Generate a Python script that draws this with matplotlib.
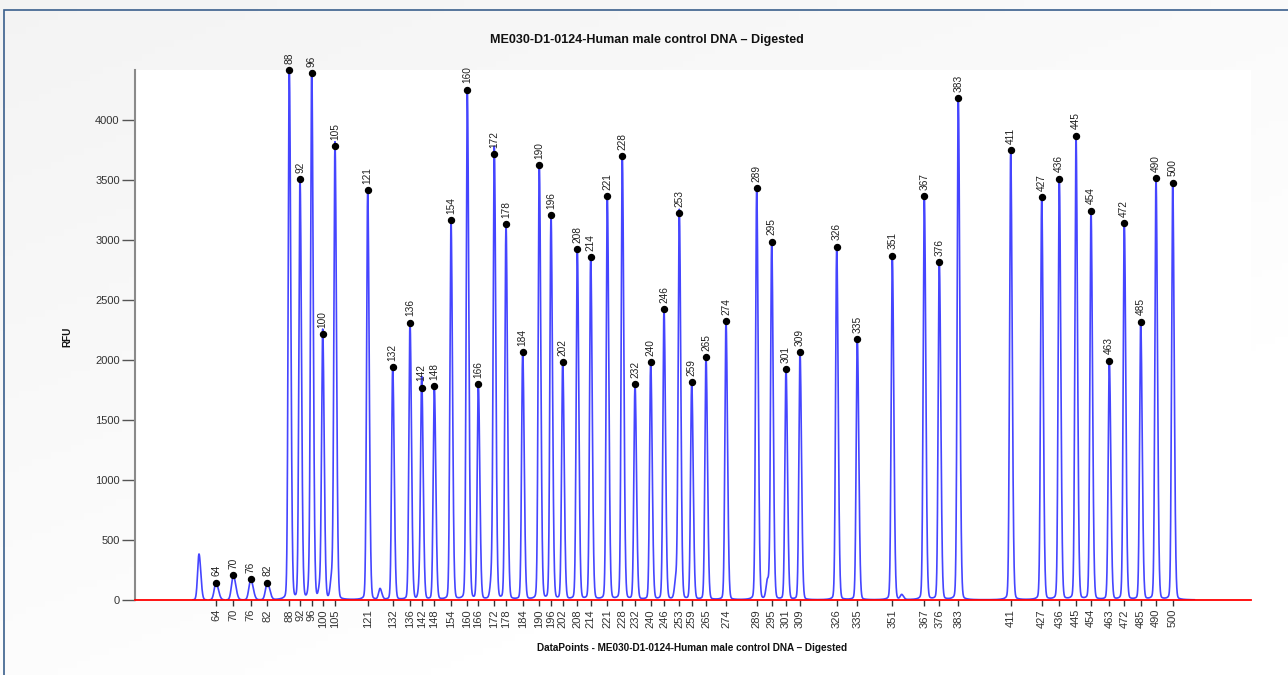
import numpy as np
import matplotlib
matplotlib.use("Agg")
import matplotlib.pyplot as plt
from matplotlib.patches import Rectangle

plt.rcParams['font.family'] = ['Liberation Sans', 'DejaVu Sans']

# Размеры фрагментов (подписи пиков) и их положения в точках данных
sizes = [64, 70, 76, 82, 88, 92, 96, 100, 105, 121, 132, 136, 142, 148, 154,
         160, 166, 172, 178, 184, 190, 196, 202, 208, 214, 221, 228, 232, 240,
         246, 253, 259, 265, 274, 289, 295, 301, 309, 326, 335, 351, 367, 376,
         383, 411, 427, 436, 445, 454, 463, 472, 485, 490, 500]
positions = [810, 983, 1157, 1323, 1543, 1650, 1767, 1877, 2000, 2327, 2577,
             2750, 2867, 2993, 3160, 3323, 3433, 3593, 3710, 3877, 4043, 4160,
             4277, 4423, 4557, 4723, 4873, 5000, 5157, 5290, 5443, 5567, 5710,
             5910, 6217, 6367, 6510, 6650, 7017, 7223, 7573, 7893, 8043, 8233,
             8757, 9067, 9243, 9410, 9560, 9743, 9893, 10057, 10210, 10377]
heights = [144, 208, 175, 144, 4414, 3508, 4389, 2214, 3783, 3414, 1942, 2311,
           1769, 1781, 3164, 4253, 1797, 3717, 3133, 2067, 3625, 3208, 1981,
           2925, 2858, 3367, 3700, 1797, 1981, 2422, 3222, 1814, 2025, 2325,
           3433, 2986, 1925, 2067, 2944, 2175, 2869, 3367, 2814, 4183, 3747,
           3358, 3511, 3869, 3244, 1994, 3139, 2319, 3514, 3478]

# Мелкие пики без подписи (плечи, наводки)
minor_positions = [640, 1750, 1850, 1967, 2450, 2850, 3567, 5410, 6325, 7667]
minor_heights = [383, 150, 100, 170, 90, 140, 165, 160, 150, 40]

title = 'ME030-D1-0124-Human male control DNA \u2013 Digested'


def peak(x, x0, h, sl, sr, g=16.0):
    # Форма пика: асимметричный гаусс с лоренцевым хвостом
    dx = x - x0
    s = np.where(dx < 0, sl, sr)
    return h * (0.94 * np.exp(-dx ** 2 / (2 * s ** 2)) + 0.06 / (1 + (dx / g) ** 2))


x = np.linspace(0, 11160, 14000)
trace = np.zeros_like(x)
for p, h in zip(positions, heights):
    w = 11.0 if h > 500 else 18.0
    trace += peak(x, p, h, w, w * 1.35)
for p, h in zip(minor_positions, minor_heights):
    trace += peak(x, p, h, 14.0, 18.0)
trace_m = np.ma.masked_less(trace, 2)

fig = plt.figure(figsize=(12.88, 6.75), dpi=100)

# Фон с лёгким градиентом
bg = fig.add_axes([0, 0, 1, 1], zorder=-5)
gx, gy = np.meshgrid(np.linspace(0, 1, 200), np.linspace(0, 1, 100))
grad = 0.955 + 0.045 * np.clip((gx * 0.6 + gy * 0.8), 0, 1)
bg.imshow(np.dstack([grad, grad, grad]), aspect='auto', extent=[0, 1, 0, 1],
          origin='upper')
bg.set_axis_off()
fig.patches.append(Rectangle((4 / 1288, -0.1), 1.2, 1 - 10 / 675 + 0.1,
                             transform=fig.transFigure, fill=False,
                             edgecolor='#3a5f8c', linewidth=1.2))

ax = fig.add_axes([135 / 1288, 1 - 600 / 675, 1116 / 1288, 530 / 675])
ax.set_facecolor('white')
ax.plot(x, trace_m, color='#2424ff', linewidth=1.2, alpha=0.85, zorder=3)
ax.plot(positions, heights, 'o', color='black', markersize=4.3, zorder=4,
        clip_on=False)
for p, h, s in zip(positions, heights, sizes):
    ax.annotate(str(s), (p, h), xytext=(0, 4.5), textcoords='offset points',
                rotation=90, ha='center', va='bottom', fontsize=7.3,
                color='#222222', annotation_clip=False)

ax.set_xlim(0, 11160)
ax.set_ylim(0, 530 / 0.12)
ax.set_yticks(np.arange(0, 4001, 500))
ax.set_xticks(positions)
ax.set_xticklabels([str(s) for s in sizes], rotation=90)
ax.tick_params(axis='y', length=9.5, width=1, color='#555555', pad=1.5,
               labelsize=8, labelcolor='#333333')
ax.tick_params(axis='x', length=4.5, width=1, color='#333333', pad=2,
               labelsize=8, labelcolor='#333333')
for side in ['top', 'right']:
    ax.spines[side].set_visible(False)
ax.spines['left'].set_color('#8a8a8a')
ax.spines['left'].set_linewidth(1.5)
ax.spines['bottom'].set_color('#ff0000')
ax.spines['bottom'].set_linewidth(1.3)
ax.spines['bottom'].set_zorder(5)

fig.text(647 / 1288, 1 - 40 / 675, title, ha='center', va='center',
         fontsize=9, fontweight='bold', color='#111111')
fig.text(692 / 1288, 1 - 648 / 675, 'DataPoints - ' + title, ha='center',
         va='center', fontsize=7.2, fontweight='bold', color='#111111')
fig.text(67 / 1288, 1 - 337 / 675, 'RFU', ha='center', va='center',
         rotation=90, fontsize=7.2, fontweight='bold', color='#111111')

fig.savefig('out.png', dpi=100)
